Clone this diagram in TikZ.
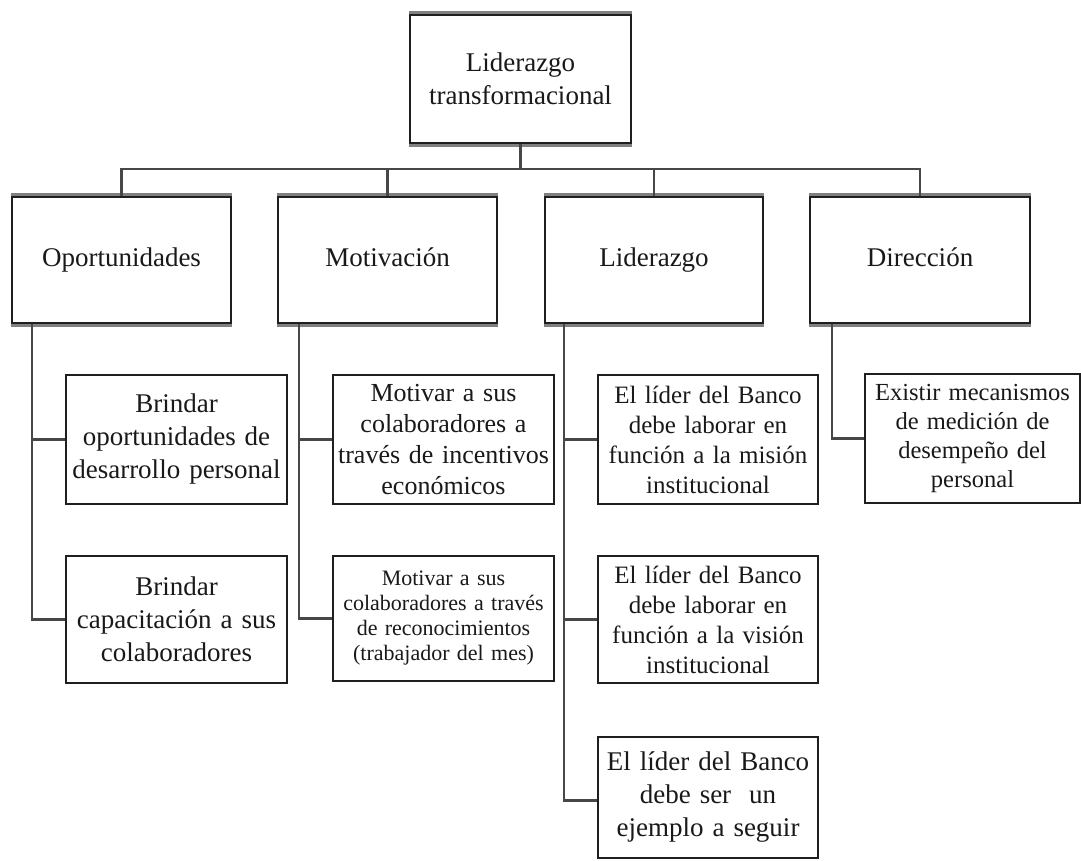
\documentclass[tikz,border=0pt]{standalone}
\usepackage{fontspec}
\setmainfont{Liberation Serif}
\newcommand{\fA}{\fontsize{20.25pt}{24.75pt}\selectfont}
\newcommand{\fB}{\fontsize{19.5pt}{23.25pt}\selectfont}
\newcommand{\fC}{\fontsize{18.75pt}{22.5pt}\selectfont}
\newcommand{\fD}{\fontsize{16.5pt}{18.75pt}\selectfont}
\newcommand{\fE}{\fontsize{18.4pt}{21.75pt}\selectfont}
\tikzset{
  box/.style={draw=black!88, line width=1.4pt, fill=white, align=center,
    inner sep=0pt, text width=160pt, text=black!90},
  conn/.style={draw=black!72, line width=2.1pt},
  band/.style={draw=black!50, line width=2.4pt},
}
\begin{document}
\begin{tikzpicture}[x=0.75pt, y=-0.75pt]
\useasboundingbox (0,0) rectangle (1081,860);
% top
\node[box, font=\fA, minimum width=165.75pt, minimum height=96pt] (top) at (520.5,79) {Liderazgo\\transformacional};
% level 2
\node[box, font=\fA, minimum width=164.25pt, minimum height=94.5pt] (o) at (121.5,260) {\strut Oportunidades};
\node[box, font=\fA, minimum width=164.25pt, minimum height=94.5pt] (m) at (387.5,260) {\strut Motivación};
\node[box, font=\fA, minimum width=163.5pt, minimum height=94.5pt] (l) at (654,260) {\strut Liderazgo};
\node[box, font=\fA, minimum width=165pt, minimum height=94.5pt] (d) at (920,260) {\strut Dirección};
% children
\node[box, font=\fA, minimum width=165.75pt, minimum height=96.75pt] (o1) at (176.5,439.5) {Brindar\\oportunidades de\\desarrollo personal};
\node[box, font=\fA, minimum width=165.75pt, minimum height=95.25pt] (o2) at (176.5,619.5) {Brindar\\capacitación a sus\\colaboradores};
\node[box, font=\fB, minimum width=165.75pt, minimum height=96.75pt] (m1) at (443.5,439.5) {Motivar a sus\\colaboradores a\\través de incentivos\\económicos};
\node[box, font=\fD, minimum width=165.75pt, minimum height=93.75pt] (m2) at (443.5,618.5) {Motivar a sus\\colaboradores a través\\de reconocimientos\\(trabajador del mes)};
\node[box, font=\fC, minimum width=165pt, minimum height=96.75pt] (l1) at (708,439.5) {El líder del Banco\\debe laborar en\\función a la misión\\institucional};
\node[box, font=\fC, minimum width=165pt, minimum height=95.25pt] (l2) at (708,619.5) {El líder del Banco\\debe laborar en\\función a la visión\\institucional};
\node[box, font=\fA, minimum width=165pt, minimum height=90.75pt] (l3) at (708,797.5) {El líder del Banco\\debe ser\ \ un\\ejemplo a seguir};
\node[box, font=\fE, minimum width=161.25pt, minimum height=96.75pt] (d1) at (972.5,438.5) {Existir mecanismos\\de medición de\\desempeño del\\personal};
% scan-like thick top/bottom edges
\foreach \n in {top,o,m,l,d}{
  \draw[band] ([yshift=1.2pt]\n.north west) -- ([yshift=1.2pt]\n.north east);
  \draw[band] ([yshift=-1.2pt]\n.south west) -- ([yshift=-1.2pt]\n.south east);
}
% bus
\draw[conn] (top.south) -- ++(0,25) coordinate (busc);
\draw[conn] (o.north) -- (o.north |- busc) -- (d.north |- busc) -- (d.north);
\draw[conn] (m.north) -- (m.north |- busc);
\draw[conn] (l.north) -- (l.north |- busc);
% trunks
\coordinate (ot) at ([xshift=15.75pt]o.south west);
\coordinate (mt) at ([xshift=16.5pt]m.south west);
\coordinate (lt) at ([xshift=15pt]l.south west);
\coordinate (dt) at ([xshift=17.25pt]d.south west);
\draw[conn] (ot) |- (o1.west);
\draw[conn] (ot) |- (o2.west);
\draw[conn] (mt) |- (m1.west);
\draw[conn] (mt) |- (m2.west);
\draw[conn] (lt) |- (l1.west);
\draw[conn] (lt) |- (l2.west);
\draw[conn] (lt) |- ([yshift=-2.25pt]l3.west);
\draw[conn] (dt) |- (d1.west);
\end{tikzpicture}
\end{document}
